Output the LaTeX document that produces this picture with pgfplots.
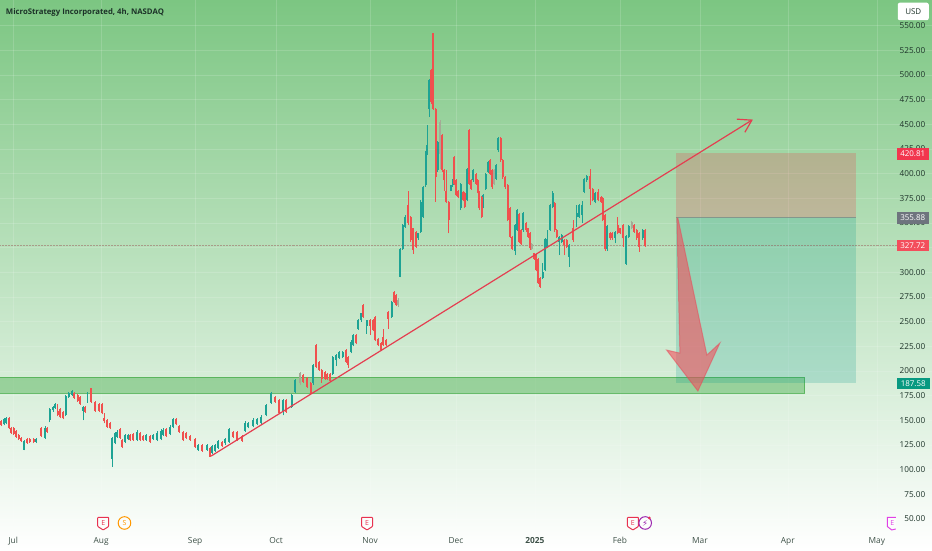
\documentclass[border=0pt]{standalone}
\usepackage{pgfplots}
\usepackage{pgfplotstable}
\usepackage{fontspec}
\pgfplotsset{compat=1.18}
\setmainfont{Open Sans}
\newfontfamily\dejavu{DejaVu Sans}
\definecolor{cgreen}{RGB}{30,163,148}
\definecolor{cred}{RGB}{240,80,78}
\definecolor{cgray}{RGB}{165,170,150}
\definecolor{axtxt}{RGB}{28,50,40}
\definecolor{bgtop}{RGB}{124,198,130}
\definecolor{bgmid}{RGB}{176,223,178}
\definecolor{linered}{RGB}{228,62,80}
\definecolor{band}{RGB}{76,175,80}
\definecolor{riskz}{RGB}{242,54,69}
\definecolor{rewardz}{RGB}{0,150,136}
\definecolor{arrowf}{RGB}{245,75,90}
\definecolor{arrowd}{RGB}{232,70,85}
\definecolor{tagred}{RGB}{242,54,78}
\definecolor{taggray}{RGB}{110,116,126}
\definecolor{tagred2}{RGB}{243,78,92}
\definecolor{tagteal}{RGB}{8,153,129}
\definecolor{evred}{RGB}{232,50,80}
\definecolor{evorange}{RGB}{255,152,0}
\definecolor{evpurple}{RGB}{156,39,176}
\definecolor{evmag}{RGB}{224,64,230}
% x = horizontal position on the time scale, then low, high, body bottom, body top (USD)
\pgfplotstableread{
x l h b t
4 145 152 146 151
6 146 153 147 152
24 119.5 130 120.5 129
36 127 132 128.5 131
45 131 144 132 142
49.3 148 163 150 162
52.7 159 165 160.5 164
55 162 168 163 167
65.3 154 175.5 155.5 174.5
68.3 173 178.5 174 177.5
71.7 175 181 176 180
82.7 150 165 160 164
87.3 168 179 169 178
112 103 133 111 132
115 126 138 127 137
117.3 132 140 133.5 138.5
125 127 136 128.5 135
127.7 130 136 131 135
136.7 129 140 130 138.5
146 129 136 130 135
153.3 130 136 131 135
157.3 129 139 130 137.5
160.7 130 141 131 139.5
163.3 134 142 135 140
170 135 145 136 143.6
172.7 142 152 143.6 151
198.3 119 126 120 125
206.7 119 126 120 125
212.3 116 125 117 124
215 118 126 119 125
218.3 121.5 130 122.5 129
225 125.5 132 126.7 131
229.3 127 142 128 141
245 138 149 139.5 147.7
248.3 142 148 143 147
252.7 143 152 144 150.4
256.7 145 152 146 151
260.7 146.5 155 147.7 153.7
266 154 167 155.5 165.5
270.7 167 178.5 168 177.4
282.7 155 172 159 171
291.7 163 177 164 176
295 178 192 179 191
313.3 186 207 187.5 206
332.7 196 215 197 214
336 205 217 211 216
339.3 212 220.5 213 219.5
342.7 213 220.5 214.5 219.5
351 218 231 219.5 229.7
353.3 225 238 226 236.5
358.3 242 253 243 251.6
361 250 259 251.6 258.4
366.7 238 252 246 251.6
391.7 254 271 255 270
400 295 325 295.6 324
402.7 323 349 324 347.9
405 345 358 346 356.4
418.3 333 340 334.4 339.5
420.7 340 373 341 371.6
423.3 355 388 356.4 386.8
425.7 387 423 388.4 422
427.3 419 449 420.5 429
429.3 457.7 496 466 494.8
437.7 402 433 403.6 432
450.7 382 389 383 388.4
452.7 387 394.5 388.4 393.5
460.7 363 391 364.8 390
467 372 406 373 405
473.3 392 404.5 393.5 403.6
483.3 365 379 366.5 378
485.7 384 401 385 400
488.3 401 413 402 412
496 394 410 395 408.7
498.3 422 437.5 423.9 436.7
515 317.5 349 322 348
517 342 364 343 363
523.3 341 361 342.8 359.7
542.7 293 310 294 300.6
545 301 335 302 334
547.3 325 342.8 325.9 334
550 342 369 342.8 368
552.7 365 383 366.5 380
559 317.5 337 331 336
561.7 330 339 331 337.8
569.3 305.7 329 315.8 327.5
576.7 346 368 356.4 359.7
579.3 355 369 356.4 368
582.3 350 372 358 368
584 380 396 381.7 395
586.7 392 398.5 393.5 397.6
595.3 370 381 371.6 380
607.3 322 348 323.3 347
615 329.3 342 335 341
626 308 338 309 337
628.7 335 348 336 347
642.7 333 344 334.4 342.8
}\greentbl
\pgfplotstableread{
x l h b t
1 144 150 145 149
9 141 153 142 152
11 136 143 137 142
13.3 135 143 136 142
16 132.5 140 133.5 139
18.3 130 136.5 131 135.5
21 128 133 129 132
26.7 126.5 132 127.5 131
29.3 127.5 132 128.5 131
33.3 127 132 128 131
40.7 133 143 134 142
46.7 137.5 143.5 138.5 142.5
57.3 154 167 155.5 160
60 152 163 153 162
62.7 151 160 152 159
74 172 179 173 178
77.3 169 177 170 176
80 166 175 167 174
85 158 165 159 164
90.7 168 183 169 182.5
95 159 170 160 169
98.7 159 168 160 167
101.7 156 168 157 167
104 147 158 149 152
107.3 142.5 151 143.6 150
110 141 148 142 147
120 131 142 132 141
122.3 122 131 123 130
130 129 136 130 135
132.7 129 137 130 136
140 129 138.5 130 137.5
143.3 129 135 130 134
150 127 135 128 134
166 133 142 134 141
176 145 152 146 151
179.3 137.5 145 138.5 144
183.3 129 139.5 130 138.5
186 131 138.5 132 137.5
190 129 135 130 134
195 122 132.5 123 131.5
201.7 118 126 119 125
210 113 123.5 113 122.5
221.7 123 129.5 124 128.5
233.3 132 139.5 133 138.5
237.3 129 139.5 130 138.5
241.7 128.5 135 129.5 134
275 168 175 169 174
279.3 156 171.5 157 170.6
286 158 172 159 171
303.3 188 197 189 196
307.3 183 193.5 184 192.5
310.7 177 188.5 178 187.5
316 203 227 204 226
319 200 210.5 201 209.5
321.7 188 202 192 201
325 191 200 192 199
327 190.5 198 191.5 197
330 189 198 190 197
346 208 222 209.5 221
348.3 203 215.5 206 214.5
356 227 237.5 228 236.5
363.3 254 268 255 266.8
370 236.5 252.5 246 251.6
373.3 240.5 252.5 241.5 251.6
375.3 230 256 231 255
378.3 225 234 226 233
381 220 229 221 228
383.3 225 243 226 234.7
386 225 232 226 231
388.3 243 261 253 260
394 269 281 270 280
396 266 278 267 277
408.3 348 383 349.6 368
410.7 331 357 332.7 356
413.3 319 345.5 322.6 344.5
416 325 342 326 341
431.3 471 506 472.9 505
433.3 465 543 466 542.8
435.7 371.6 467 396.9 466
442 402 440 403.6 439
444.3 383 404.5 393.5 403.6
446 370 403.6 371.6 382
448.7 339.5 372.5 353 371.6
454.3 389 418 390 417
456 377 394.5 378 393.5
458.3 375 384 376.6 383
463.3 372 382.5 373 381.7
464.7 365 381 366.5 380
469 389 445 390 444
471 384 394.5 385 393.5
476 389 401 390 400
477.7 380 394.5 381.7 393.5
479.3 363 382.5 364.8 381.7
481.7 355 377.5 356 376.6
490.3 399 415 400 413.8
492.3 385 404.5 386.8 403.6
500.7 412 437.5 413.8 436.7
502.7 395 414.5 396.9 413.8
505 385 398 386.8 396.9
507.7 352 389.5 353 388.4
510 335 366 336 364.8
512.3 323 337 324 336
519.3 330 360 331 358.8
521.3 328 344 329 342.8
526 341 351 342.8 349.6
528.3 335 345.5 336 344.5
530 323 340.5 324.4 339.5
534 313 320 314 319.2
536 301 318.5 302 317.5
538.3 288 315 288.8 314
540.3 284.5 295 285.4 293.9
554.7 341 371 342.8 369.9
556.7 335 344 336 342.8
564 317.5 333.5 327.5 332.6
566.7 325 333.5 326 332.6
573.3 331 353 332.6 344.5
590 368 404.3 385 397.6
592.7 372 386 373 385
598.3 372 385 373 381.7
601 370.5 377.5 371.6 376.6
602.7 352 376 353 375
605 322 359 323.3 358
610 333 340.5 334.4 339.5
612.3 333 340.5 334.4 339.5
617.7 338.5 356.4 339.5 348
620 338.5 345.5 339.5 344.5
623.3 326 349 334.4 347.9
634.3 340 349 341 348
636.7 333 344 334.4 342.8
639.3 321 340.5 326 339.5
645 325.5 343.5 326.6 342.8
}\redtbl
\pgfplotstableread{
x l h b t
300 186 199 187.5 197.6
398.3 265 274 267 272
440 405 454 420.5 452.6
494.3 389 405 390 403.6
531.7 323 330 324 329
631.7 343.5 352 344.5 351
}\graytbl
\newcommand{\candles}[2]{%
  \addplot[draw=none, error bars/.cd, y dir=plus, y explicit, error mark=none,
     error bar style={line width=0.6pt, color=#2}]
     table[x=x, y=l, y error plus expr=\thisrow{h}-\thisrow{l}] {#1};
  \addplot[draw=none, error bars/.cd, y dir=plus, y explicit, error mark=none,
     error bar style={line width=2pt, color=#2}]
     table[x=x, y=b, y error plus expr=\thisrow{t}-\thisrow{b}] {#1};
}
\begin{document}
\begin{tikzpicture}
\begin{axis}[
  name=main,
  scale only axis, width=932bp, height=550bp,
  xmin=0, xmax=932, ymin=18.7, ymax=575.83,
  axis line style={draw=none},
  tick style={draw=none},
  axis background/.style={top color=bgtop, middle color=bgmid, bottom color=white},
  ytick={50,75,...,550},
  yticklabel pos=right,
  xticklabel pos=lower,
  y tick label style={anchor=east, xshift=-3bp, text=axtxt, font=\fontsize{8.2}{9}\selectfont,
    /pgf/number format/.cd, fixed, fixed zerofill, precision=2, assume math mode=true},
  xtick={13,101,195,276,370,456,535,620,700,788,877},
  xticklabels={Jul,Aug,Sep,Oct,Nov,Dec,\textbf{2025},Feb,Mar,Apr,May},
  x tick label style={anchor=base, yshift=6bp, text=axtxt!85!white, font=\fontsize{8.4}{9}\selectfont},
  grid=major,
  grid style={white, opacity=0.15, line width=0.5pt},
]
% demand band
\addplot[fill=band, fill opacity=0.45, draw=band, draw opacity=0.8, line width=0.7pt]
  coordinates {(-4,177.7) (805,177.7) (805,194) (-4,194)} -- cycle;
% risk / reward zones
\addplot[fill=riskz, fill opacity=0.22, draw=none]
  coordinates {(676,355.88) (856,355.88) (856,420.81) (676,420.81)} -- cycle;
\addplot[fill=rewardz, fill opacity=0.2, draw=none]
  coordinates {(676,187.58) (856,187.58) (856,355.88) (676,355.88)} -- cycle;
\addplot[color=gray, opacity=0.7, line width=1pt] coordinates {(676,355.88) (856,355.88)};
% last price line
\addplot[color=linered!60!axtxt, opacity=0.4, line width=0.5pt, densely dotted] coordinates {(0,327.72) (897,327.72)};
% candles
\candles{\graytbl}{cgray}
\candles{\greentbl}{cgreen}
\candles{\redtbl}{cred}
% trend line with open arrow head
\addplot[color=linered, line width=1.2pt] coordinates {(211,113.9) (752,454.3)};
\addplot[color=linered, line width=1.2pt] coordinates {(737,455.3) (752,454.3) (745,442)};
% large down arrow
\addplot[fill=arrowf, fill opacity=0.58, draw=arrowd, draw opacity=0.5, line width=1pt]
  coordinates {(677,355) (678,355) (707,216.2) (720,228.4) (698,179.8) (666.7,221.3) (680,218.2)} -- cycle;
\end{axis}
\begin{scope}[x=1bp,y=-1bp,yshift=550bp, font=\fontsize{8}{9}\selectfont]
  % header
  \node[anchor=base west, inner sep=0, text=axtxt, font=\fontsize{7.8}{9}\selectfont\bfseries] at (5.5,14) {MicroStrategy Incorporated, 4h, NASDAQ};
  \fill[white, rounded corners=2bp] (898,2.5) rectangle (929,20);
  \node[text=axtxt, inner sep=0] at (913.5,11.5) {USD};
  % price tags
  \fill[tagred] (897,148) rectangle (929,159.5);
  \node[text=white, inner sep=0] at (913,153.8) {420.81};
  \fill[taggray] (897,212) rectangle (929,223.5);
  \node[text=white, inner sep=0] at (913,217.8) {355.88};
  \fill[tagred2] (897,240) rectangle (929,251);
  \node[text=white, inner sep=0] at (913,245.6) {327.72};
  \fill[tagteal] (897,378) rectangle (930,389);
  \node[text=white, inner sep=0] at (913.5,383.6) {187.58};
  % event markers
  \foreach \cx in {103,367,633}{
    \draw[evred, line width=1pt, fill=white, fill opacity=0.5, rounded corners=0.8bp]
      (\cx-5.5,517.3) -- (\cx+5.5,517.3) -- (\cx+5.5,526.5) -- (\cx,530) -- (\cx-5.5,526.5) -- cycle;
    \node[text=evred, inner sep=0, font=\fontsize{7}{8}\selectfont] at (\cx,523) {E};
  }
  \draw[evorange, line width=1pt, fill=white, fill opacity=0.5] (124.3,523) circle[radius=6.3];
  \node[text=evorange, inner sep=0, font=\fontsize{7}{8}\selectfont] at (124.3,523) {S};
  \draw[evpurple, line width=1pt, fill=white, fill opacity=0.5] (645.3,523) circle[radius=6.3];
  \node[text=evpurple, inner sep=0, font=\dejavu\fontsize{8.5}{9}\selectfont] at (645.3,523) {⚡};
  \fill[evred] (649.5,518) circle[radius=1.5];
  \draw[evmag, line width=1pt, fill=white, fill opacity=0.5]
    (896,517.3) -- (887.5,517.3) -- (887.5,526.5) -- (892,530) -- (896,529);
  \node[text=evmag, inner sep=0, font=\fontsize{7}{8}\selectfont] at (892.5,523) {E};
\end{scope}
\end{tikzpicture}
\end{document}
